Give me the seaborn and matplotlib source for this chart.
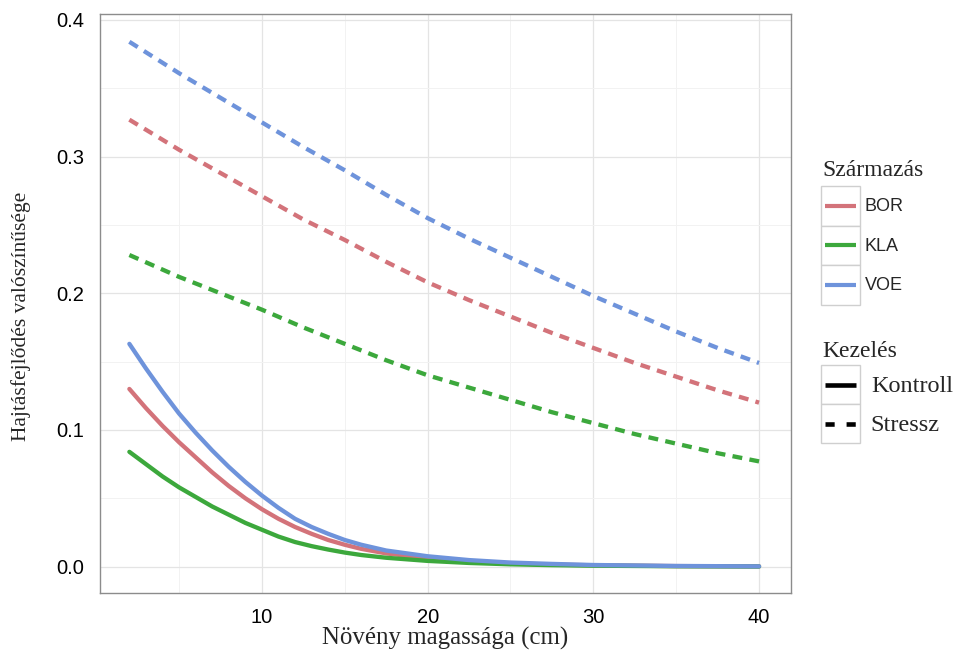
import matplotlib
matplotlib.use("Agg")
import matplotlib.pyplot as plt
import seaborn as sns
import pandas as pd
from matplotlib.lines import Line2D
from matplotlib.patches import Rectangle
from matplotlib.legend_handler import HandlerLine2D
import matplotlib.ticker as mticker

origins = ["BOR", "KLA", "VOE"]
treatments = ["Kontroll", "Stressz"]

heights_kontroll = [2, 3, 4, 5, 6, 7, 8, 9, 10, 11, 12, 13, 14, 15, 16,
                    17.5, 20, 22.5, 25, 27.5, 30, 35, 40]
heights_stressz = [2, 5, 7.5, 10, 12.5, 15, 17.5, 20, 22.5, 25, 27.5, 30,
                   32.5, 35, 37.5, 40]

# probability of shoot branching (Kontroll)
bor_kontroll = [0.130, 0.116, 0.103, 0.091, 0.080, 0.069, 0.059, 0.050, 0.042,
                0.035, 0.029, 0.024, 0.0195, 0.016, 0.013, 0.0097, 0.0061,
                0.0038, 0.0024, 0.0015, 0.0010, 0.0004, 0.0002]
kla_kontroll = [0.084, 0.075, 0.066, 0.058, 0.051, 0.044, 0.038, 0.032, 0.027,
                0.022, 0.018, 0.015, 0.0125, 0.0103, 0.0085, 0.0065, 0.0042,
                0.0027, 0.0017, 0.0011, 0.0007, 0.0003, 0.0001]
voe_kontroll = [0.163, 0.145, 0.128, 0.112, 0.098, 0.085, 0.073, 0.062, 0.052,
                0.043, 0.035, 0.029, 0.024, 0.0195, 0.016, 0.0118, 0.0076,
                0.0048, 0.0030, 0.0020, 0.0012, 0.0005, 0.0002]

# probability of shoot branching (Stressz)
bor_stressz = [0.327, 0.305, 0.288, 0.271, 0.254, 0.239, 0.223, 0.208, 0.195,
               0.183, 0.171, 0.160, 0.149, 0.139, 0.129, 0.120]
kla_stressz = [0.228, 0.212, 0.200, 0.188, 0.175, 0.163, 0.151, 0.140, 0.131,
               0.122, 0.113, 0.105, 0.097, 0.090, 0.083, 0.077]
voe_stressz = [0.384, 0.361, 0.343, 0.325, 0.307, 0.290, 0.272, 0.255, 0.240,
               0.226, 0.212, 0.198, 0.185, 0.172, 0.160, 0.149]

x_ticks = [10, 20, 30, 40]
y_ticks = [0.0, 0.1, 0.2, 0.3, 0.4]

palette = {"BOR": "#D3737A", "KLA": "#3CA83C", "VOE": "#6E93DB"}
DASH = (2.3, 1.7)


class BoxedLine(HandlerLine2D):
    """ggplot-like legend key: short line inside a grey-bordered square."""

    def create_artists(self, legend, orig_handle, xdescent, ydescent,
                       width, height, fontsize, trans):
        box = Rectangle((-xdescent, -ydescent), width, height,
                        facecolor="white", edgecolor="#CFCFCF", lw=1.0,
                        transform=trans)
        pad = 0.1 * width
        y = -ydescent + height / 2
        line = Line2D([-xdescent + pad, -xdescent + width - pad], [y, y])
        self.update_prop(line, orig_handle, legend)
        line.set_transform(trans)
        return [box, line]


def build_frame():
    series = [
        ("BOR", "Kontroll", heights_kontroll, bor_kontroll),
        ("KLA", "Kontroll", heights_kontroll, kla_kontroll),
        ("VOE", "Kontroll", heights_kontroll, voe_kontroll),
        ("BOR", "Stressz", heights_stressz, bor_stressz),
        ("KLA", "Stressz", heights_stressz, kla_stressz),
        ("VOE", "Stressz", heights_stressz, voe_stressz),
    ]
    frames = []
    for orig, treat, xs, vals in series:
        frames.append(pd.DataFrame({
            "magassag": xs,
            "valoszinuseg": vals,
            "Származás": orig,
            "Kezelés": treat,
        }))
    return pd.concat(frames, ignore_index=True)


def main():
    sns.set_style("white")
    plt.rcParams["font.family"] = ["Liberation Sans", "DejaVu Sans"]

    df = build_frame()

    fig = plt.figure(figsize=(9.58, 6.56), dpi=100)
    ax = fig.add_axes([0.1039, 0.0960, 0.7213, 0.8826])

    sns.lineplot(
        data=df, x="magassag", y="valoszinuseg",
        hue="Származás", style="Kezelés",
        hue_order=origins, style_order=treatments,
        palette=palette,
        dashes={"Kontroll": "", "Stressz": DASH},
        linewidth=3.1, errorbar=None, legend=False, ax=ax,
    )

    ax.set_xlim(0.2, 41.9)
    ax.set_ylim(-0.0193, 0.4043)
    ax.set_xticks(x_ticks)
    ax.set_yticks(y_ticks)
    ax.xaxis.set_minor_locator(mticker.MultipleLocator(5))
    ax.yaxis.set_minor_locator(mticker.MultipleLocator(0.05))
    ax.yaxis.set_major_formatter(mticker.FormatStrFormatter("%.1f"))

    ax.grid(True, which="major", color="#E4E4E4", lw=0.9)
    ax.grid(True, which="minor", color="#F2F2F2", lw=0.7)
    ax.set_axisbelow(True)
    for sp in ax.spines.values():
        sp.set_color("#8C8C8C")
        sp.set_linewidth(1.0)

    ax.tick_params(axis="both", which="major", direction="out", length=6,
                   width=1.2, color="#222222", labelsize=14.5, pad=5,
                   labelcolor="black")
    ax.tick_params(axis="both", which="minor", length=0)

    ax.set_xlabel("Növény magassága (cm)", family="Liberation Serif",
                  fontsize=17.9)
    ax.set_ylabel("Hajtásfejlődés valószínűsége", family="Liberation Serif",
                  fontsize=15.5)
    ax.xaxis.set_label_coords(0.5, -0.059)
    ax.yaxis.set_label_coords(-0.099, 0.478)

    # legend titles
    fig.text(0.858, 0.7317, "Származás", family="Liberation Serif",
             fontsize=17, va="baseline", ha="left")
    fig.text(0.858, 0.4558, "Kezelés", family="Liberation Serif",
             fontsize=17, va="baseline", ha="left")

    origin_handles = [Line2D([], [], color=palette[o], lw=3.0,
                             solid_capstyle="butt") for o in origins]
    leg1 = ax.legend(
        origin_handles, origins,
        loc="upper left", bbox_to_anchor=(0.857, 0.7165),
        bbox_transform=fig.transFigure, frameon=False,
        handler_map={Line2D: BoxedLine()},
        prop={"family": "Liberation Sans", "size": 13},
        handlelength=2.16, handleheight=3.0, labelspacing=0,
        handletextpad=0.25, borderpad=0, borderaxespad=0,
    )
    ax.add_artist(leg1)

    treat_handles = [
        Line2D([], [], color="black", lw=3.3, solid_capstyle="butt"),
        Line2D([], [], color="black", lw=3.3, dashes=(2.0, 2.6),
               dash_capstyle="butt"),
    ]
    ax.legend(
        treat_handles, treatments,
        loc="upper left", bbox_to_anchor=(0.857, 0.4436),
        bbox_transform=fig.transFigure, frameon=False,
        handler_map={Line2D: BoxedLine()},
        prop={"family": "Liberation Serif", "size": 17.5},
        handlelength=1.6, handleheight=2.094, labelspacing=0,
        handletextpad=0.45, borderpad=0, borderaxespad=0,
    )

    fig.savefig("out.png", dpi=100, facecolor="white")


if __name__ == "__main__":
    main()
